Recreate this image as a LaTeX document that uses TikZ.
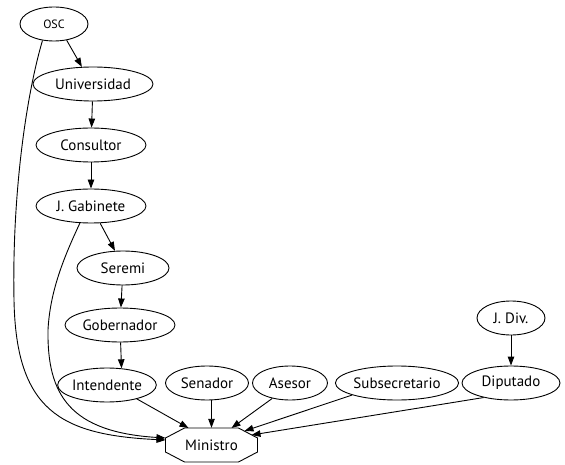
\documentclass[tikz,border=0pt]{standalone}
\usepackage{fontspec}
\setmainfont{PT Sans}
\usetikzlibrary{shapes.geometric,arrows.meta,calc}
\begin{document}
\begin{tikzpicture}[x=1pt,y=-1pt,
  el/.style={draw,ellipse,line width=0.9pt,inner sep=0pt,minimum height=34pt,font=\fontsize{15}{17}\selectfont},
  octbox/.style={inner sep=0pt,minimum width=92pt,minimum height=34pt,font=\fontsize{15}{17}\selectfont},
  octline/.style={line width=0.9pt,line join=miter},
  arr/.style={line width=0.9pt,-{Triangle[length=9pt,width=6.5pt]}}]
\useasboundingbox (0,0) rectangle (565,465);
\node[el,minimum width=68pt,font=\fontsize{12}{14}\selectfont] (OSC) at (54,24) {OSC};
\node[el,minimum width=120pt] (Universidad) at (93,84) {Universidad};
\node[el,minimum width=110pt] (Consultor) at (91,145) {Consultor};
\node[el,minimum width=110pt] (JGab) at (91,206) {J. Gabinete};
\node[el,minimum width=92pt] (Seremi) at (123,268) {Seremi};
\node[el,minimum width=110pt] (Gobernador) at (120,325) {Gobernador};
\node[el,minimum width=92pt] (Intendente) at (107,385) {Intendente};
\node[el,minimum width=83pt] (Senador) at (207,383) {Senador};
\node[el,minimum width=75pt] (Asesor) at (290,383) {Asesor};
\node[el,minimum width=122pt] (Subsecretario) at (397,383) {Subsecretario};
\node[el,minimum width=98pt] (Diputado) at (511,383) {Diputado};
\node[el,minimum width=68pt] (JDiv) at (511,318) {J. Div.};
\node[octbox] (Ministro) at (211.5,445) {Ministro};
\draw[octline] ($(Ministro.center)+(-27,-17)$) -- ($(Ministro.center)+(27,-17)$)
  -- ($(Ministro.center)+(46,-7)$) -- ($(Ministro.center)+(46,7)$)
  -- ($(Ministro.center)+(27,17)$) -- ($(Ministro.center)+(-27,17)$)
  -- ($(Ministro.center)+(-46,7)$) -- ($(Ministro.center)+(-46,-7)$) -- cycle;

\draw[arr] (OSC.-52) -- (Universidad.123);
\draw[arr] (Universidad) -- (Consultor);
\draw[arr] (Consultor) -- (JGab);
\draw[arr] (JGab.-62) -- (Seremi.115);
\draw[arr] (Seremi) -- (Gobernador);
\draw[arr] (Gobernador) -- (Intendente.49);
\draw[arr] (Intendente.-25) -- ($(Ministro.center)+(-23,-17)$);
\draw[arr] (Senador.south -| Ministro.north) -- (Ministro.north);
\draw[arr] (Asesor.221) -- ($(Ministro.center)+(20,-17)$);
\draw[arr] (Subsecretario.195) -- ($(Ministro.center)+(33,-14)$);
\draw[arr] (Diputado.208) -- ($(Ministro.center)+(40,-10)$);
\draw[arr] (JDiv) -- (Diputado);
\draw[arr] (OSC.235) .. controls (25,100) and (12,200) .. (14,300)
   .. controls (16,410) and (60,435) .. ($(Ministro.center)+(-46,-5)$);
\draw[arr] (JGab.237) .. controls (65,255) and (50,290) .. (48,330)
   .. controls (47,395) and (70,432) .. ($(Ministro.center)+(-46,-7)$);
\end{tikzpicture}
\end{document}
